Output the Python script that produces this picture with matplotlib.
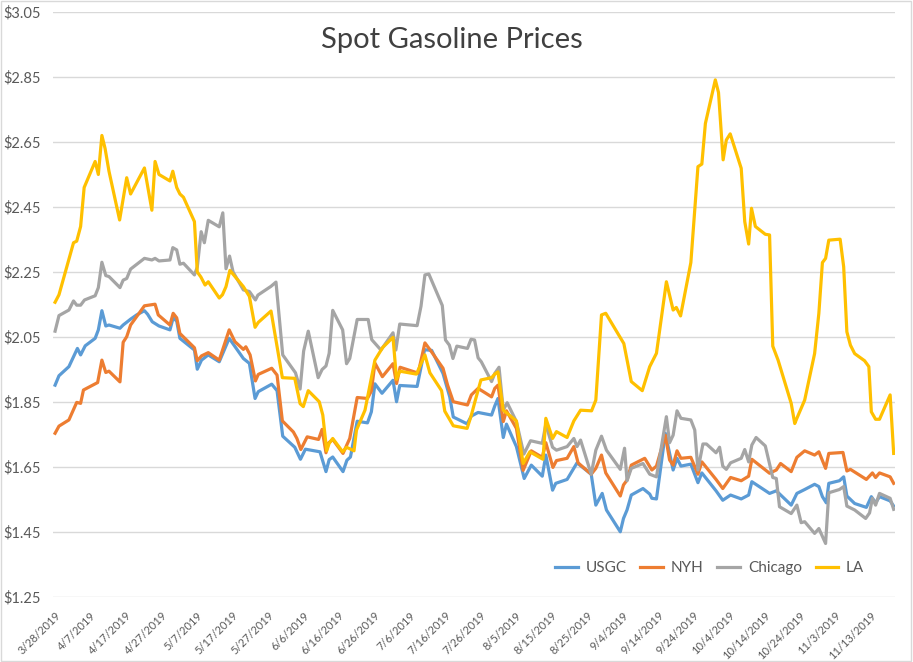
import datetime as dt
import matplotlib
matplotlib.use('Agg')
import matplotlib.pyplot as plt
from matplotlib.patches import Rectangle

plt.rcParams['font.family'] = ['Lato', 'DejaVu Sans']

# days after 3/28/2019
start = dt.datetime(2019, 3, 28)

usgc_days = [0, 1.1, 3.9, 6.3, 7.2, 8.5, 11.3, 12.2, 13.2, 14.3, 15.2, 18.3, 19.2, 21.3, 23, 25.2, 26.1, 27.4,
             29.3, 32.4, 33.3, 34.3, 35.2, 39.3, 40.1, 41.3, 43.2, 46.3, 49.1, 53.1, 54.8, 56.4, 57.3, 61.1,
             62.6, 64.2, 67.6, 69.2, 70.6, 74.7, 76.4, 77.3, 78.3, 81.2, 82.3, 83.3, 85.2, 88.1, 89.2, 90.2,
             92.2, 95.3, 96.3, 97.2, 102.1, 104.2, 106.2, 109.4, 111.3, 112.3, 116.2, 117.4, 119.3, 123.1,
             124, 124.9, 126.4, 127.3, 130.1, 132.3, 134.3, 137.4, 138.4, 140.3, 141.2, 144.4, 147.2, 151.2,
             152.5, 154.3, 155.5, 159.4, 160.3, 161.3, 162.5, 165.8, 167.7, 168.3, 169.6, 172.1, 174.3, 175.4,
             176.5, 179.3, 181.3, 182.4, 186.4, 188.3, 190.5, 193.5, 195.6, 196.5, 201.5, 203.4, 207.6, 209.2,
             211.4, 214.2, 215.4, 216.4, 217.5, 218.2, 221.2, 222.4, 223.3, 225.5, 228.8, 230.2, 231.4, 232.5,
             235.5, 236.5]
usgc = [1.902, 1.931, 1.959, 2.015, 1.995, 2.023, 2.046, 2.072, 2.131, 2.084, 2.087, 2.077, 2.087, 2.105, 2.118,
        2.131, 2.12, 2.097, 2.084, 2.072, 2.109, 2.099, 2.046, 2.01, 1.951, 1.979, 1.995, 1.974, 2.046, 1.984,
        1.969, 1.861, 1.882, 1.905, 1.885, 1.745, 1.711, 1.674, 1.705, 1.697, 1.636, 1.673, 1.681, 1.636, 1.671,
        1.681, 1.791, 1.786, 1.82, 1.906, 1.877, 1.917, 1.851, 1.901, 1.898, 2.011, 2.009, 1.938, 1.866, 1.804,
        1.783, 1.807, 1.818, 1.81, 1.838, 1.861, 1.741, 1.782, 1.713, 1.615, 1.656, 1.622, 1.687, 1.579, 1.6,
        1.612, 1.663, 1.628, 1.533, 1.569, 1.518, 1.451, 1.492, 1.518, 1.564, 1.584, 1.567, 1.554, 1.552, 1.754,
        1.641, 1.677, 1.653, 1.659, 1.602, 1.632, 1.577, 1.548, 1.564, 1.552, 1.564, 1.605, 1.569, 1.577, 1.533,
        1.569, 1.581, 1.597, 1.59, 1.559, 1.54, 1.6, 1.608, 1.62, 1.561, 1.538, 1.526, 1.559, 1.54, 1.559, 1.546,
        1.53]

nyh_days = [0, 1.1, 3.9, 6.1, 7.2, 8, 12, 13.2, 14.3, 15.2, 18.3, 19.2, 20.2, 21.3, 25.2, 28.2, 29.1, 32.4,
            33.3, 34.3, 35.2, 39.3, 40.1, 41.3, 43.2, 46.3, 49.1, 50.7, 53.1, 53.8, 55, 56.5, 57.3, 61.1, 62.6,
            64.1, 67.2, 68.2, 69.3, 71.1, 74.3, 75.3, 76.4, 77, 78.3, 81.2, 83.1, 85.2, 88.1, 89.2, 90.2, 92.3,
            95.3, 96.3, 97.3, 102.4, 104.3, 106.2, 109.4, 110.7, 112.3, 116.3, 117.4, 119.3, 123.1, 124, 124.9,
            126.4, 127.3, 130.1, 132, 134.3, 137.4, 138.4, 140.4, 141.4, 144.4, 146.3, 147.5, 151.2, 152.5,
            154.1, 155.3, 159.4, 160.3, 161.3, 162.5, 166.3, 168.3, 169.6, 172.1, 173.3, 174.3, 175.4, 176.5,
            179.3, 181.3, 182.4, 186.4, 188.3, 190.5, 193.5, 195.6, 196.5, 201.5, 203.4, 204.6, 207.6, 209.2,
            211.4, 214.2, 215.4, 217.3, 218.2, 222.2, 223.3, 224.3, 228.8, 230.5, 231.4, 232.5, 235.5, 236.5]
nyh = [1.754, 1.776, 1.795, 1.849, 1.846, 1.887, 1.91, 1.979, 1.941, 1.945, 1.912, 2.034, 2.051, 2.087, 2.146,
       2.151, 2.118, 2.087, 2.123, 2.109, 2.061, 2.017, 1.977, 1.992, 2.002, 1.979, 2.072, 2.036, 2.012, 2.02,
       1.995, 1.915, 1.935, 1.954, 1.933, 1.792, 1.758, 1.738, 1.704, 1.743, 1.735, 1.766, 1.694, 1.723, 1.735,
       1.692, 1.738, 1.864, 1.861, 1.884, 1.97, 1.928, 1.968, 1.907, 1.957, 1.939, 2.032, 2.004, 1.954, 1.902,
       1.851, 1.841, 1.872, 1.892, 1.866, 1.892, 1.902, 1.79, 1.823, 1.769, 1.64, 1.7, 1.68, 1.725, 1.649, 1.67,
       1.677, 1.713, 1.663, 1.628, 1.646, 1.687, 1.632, 1.561, 1.595, 1.61, 1.656, 1.677, 1.641, 1.653, 1.748,
       1.672, 1.656, 1.7, 1.677, 1.68, 1.628, 1.666, 1.612, 1.584, 1.618, 1.608, 1.622, 1.674, 1.631, 1.641,
       1.661, 1.636, 1.68, 1.7, 1.687, 1.697, 1.646, 1.692, 1.695, 1.638, 1.643, 1.612, 1.632, 1.618, 1.632,
       1.62, 1.6]

chicago_days = [0, 1.1, 3.9, 5.2, 6.1, 7.2, 8.3, 11.3, 12.2, 13.2, 14.3, 15.2, 18.3, 19.2, 20.2, 21.3, 25.2,
                27.3, 28.2, 29.3, 32.4, 33.2, 34.3, 35.2, 36.2, 39.3, 40.1, 41.2, 42.1, 43.2, 46.3, 47.3, 48.2,
                49.2, 50.2, 53.1, 54.8, 56.5, 57.2, 60.9, 62.3, 64.2, 67.8, 69.1, 70.1, 71.4, 74.2, 75.3, 76.4,
                77.3, 78.3, 81.1, 82.2, 83.1, 85.2, 88.3, 89.3, 91.9, 95.3, 96.1, 97.2, 102.1, 103.2, 104.3,
                105.4, 109.2, 110.1, 111.2, 112.2, 113.3, 116.3, 117.3, 118.3, 119.3, 120.2, 123.1, 124, 125.2,
                126.4, 127.5, 130.1, 132.2, 134.1, 137.4, 138.4, 140.3, 141.4, 144.4, 146.3, 147.2, 148.2, 151.2,
                152.5, 154.1, 155.5, 159.4, 160.6, 161.3, 162.5, 165.8, 167.7, 169.6, 172.4, 173.3, 174.3, 175.4,
                176.5, 179.3, 180.4, 181.3, 182.7, 183.7, 186.4, 187.4, 188.3, 189.3, 190.5, 193.5, 194.5, 195.6,
                196.5, 197.7, 200.3, 202.4, 203.4, 204.3, 207.6, 209.2, 210.4, 211.4, 214.2, 215.4, 217.3, 218.2,
                221.2, 222.4, 223.3, 225.5, 228.6, 229.7, 230.5, 231.4, 232.5, 235.5, 236.5]
chicago = [2.068, 2.116, 2.133, 2.161, 2.148, 2.148, 2.164, 2.177, 2.202, 2.28, 2.239, 2.236, 2.202, 2.225, 2.23,
           2.259, 2.292, 2.287, 2.292, 2.284, 2.287, 2.325, 2.318, 2.274, 2.277, 2.241, 2.265, 2.374, 2.34, 2.409,
           2.389, 2.432, 2.26, 2.299, 2.25, 2.195, 2.19, 2.164, 2.179, 2.206, 2.219, 1.995, 1.94, 1.89, 2.007,
           2.068, 1.925, 1.95, 1.961, 2.0, 2.132, 2.072, 1.968, 1.984, 2.104, 2.104, 2.042, 2.01, 2.063, 2.01,
           2.09, 2.085, 2.145, 2.241, 2.244, 2.147, 2.041, 2.025, 1.984, 2.022, 2.015, 2.043, 2.041, 1.986, 1.974,
           1.913, 1.938, 1.957, 1.825, 1.848, 1.79, 1.69, 1.731, 1.723, 1.782, 1.711, 1.702, 1.713, 1.738, 1.713,
           1.733, 1.628, 1.702, 1.745, 1.702, 1.643, 1.708, 1.608, 1.646, 1.661, 1.628, 1.62, 1.805, 1.725, 1.748,
           1.823, 1.8, 1.795, 1.764, 1.641, 1.721, 1.721, 1.694, 1.711, 1.653, 1.643, 1.663, 1.677, 1.704, 1.666,
           1.718, 1.741, 1.715, 1.618, 1.615, 1.528, 1.507, 1.533, 1.479, 1.482, 1.446, 1.461, 1.415, 1.571,
           1.581, 1.59, 1.53, 1.518, 1.492, 1.509, 1.554, 1.533, 1.569, 1.554, 1.52]

la_days = [0, 1.1, 5.2, 6.1, 7.2, 8.2, 11.3, 12.2, 13.2, 14.1, 15.2, 18.2, 20.2, 21.3, 25.2, 27.3, 28.2, 29.3,
           32.4, 33.2, 34.3, 35.2, 36.2, 39.3, 40.1, 41.1, 42.3, 43.2, 46.3, 47.2, 48.2, 49.3, 53.1, 54.8, 56.4,
           57.3, 60.9, 64.1, 67.6, 69.1, 70, 71.4, 74.5, 75.5, 76.6, 77.3, 78.3, 81.1, 82.2, 84.3, 85, 87.4, 90.2,
           92.4, 95.3, 96.3, 97.2, 101.9, 104.3, 105.7, 109, 109.9, 112.3, 116.2, 117.4, 118.4, 120.1, 123.1, 124,
           124.9, 126.4, 130.1, 132, 133.9, 137.6, 138.4, 140.3, 141.4, 144.4, 146.3, 148.2, 151.3, 152.5, 154.1,
           155.3, 160.4, 162.5, 165.6, 167.7, 169.6, 172.4, 174.3, 175.2, 176.4, 179.3, 181.3, 182.4, 183.4,
           186.2, 187.1, 188.4, 189.3, 190.4, 193.5, 194.5, 195.6, 196.4, 197.5, 200.3, 201.5, 202.4, 203.9,
           207.6, 208.6, 209.2, 211.4, 214.2, 215.4, 216.4, 217.3, 218.2, 221.4, 222.4, 223.3, 224.3, 225.5,
           228.3, 229.5, 230.2, 231.4, 232.5, 235.5, 236.5]
la = [2.157, 2.18, 2.34, 2.345, 2.39, 2.51, 2.59, 2.55, 2.67, 2.63, 2.56, 2.41, 2.54, 2.49, 2.57, 2.44, 2.59,
      2.55, 2.53, 2.56, 2.51, 2.49, 2.48, 2.405, 2.25, 2.235, 2.21, 2.22, 2.17, 2.18, 2.205, 2.255, 2.205, 2.175,
      2.08, 2.095, 2.13, 1.925, 1.923, 1.845, 1.836, 1.885, 1.851, 1.81, 1.70, 1.723, 1.738, 1.697, 1.711, 1.70,
      1.764, 1.825, 1.979, 2.018, 2.049, 1.92, 1.945, 1.936, 1.995, 1.94, 1.885, 1.822, 1.777, 1.769, 1.81,
      1.851, 1.918, 1.925, 1.936, 1.943, 1.825, 1.792, 1.661, 1.697, 1.674, 1.80, 1.738, 1.759, 1.741, 1.792,
      1.825, 1.823, 1.856, 2.118, 2.123, 2.03, 1.913, 1.885, 1.959, 2.0, 2.22, 2.133, 2.141, 2.115, 2.279, 2.574,
      2.582, 2.707, 2.841, 2.802, 2.595, 2.656, 2.675, 2.569, 2.405, 2.336, 2.446, 2.39, 2.366, 2.364, 2.022,
      1.979, 1.846, 1.784, 1.80, 1.856, 1.999, 2.123, 2.279, 2.292, 2.348, 2.351, 2.266, 2.066, 2.025, 1.999,
      1.977, 1.959, 1.82, 1.797, 1.797, 1.872, 1.692]

series_names = ['USGC', 'NYH', 'Chicago', 'LA']
series_colors = ['#5B9BD5', '#ED7D31', '#A5A5A5', '#FFC000']

y_ticks = [1.25, 1.45, 1.65, 1.85, 2.05, 2.25, 2.45, 2.65, 2.85, 3.05]
tick_dates = [start + dt.timedelta(days=10 * i) for i in range(24)]


def to_dates(days):
    return [start + dt.timedelta(days=d) for d in days]


fig = plt.figure(figsize=(9.13, 6.62), dpi=100)
ax = fig.add_axes([0.058, 0.098, 0.922, 0.884])

all_days = [usgc_days, nyh_days, chicago_days, la_days]
all_vals = [usgc, nyh, chicago, la]
for days, vals, name, col in zip(all_days, all_vals, series_names, series_colors):
    ax.plot(to_dates(days), vals, color=col, lw=2.3, label=name, solid_joinstyle='round')

ax.set_ylim(1.25, 3.05)
ax.set_yticks(y_ticks)
ax.set_yticklabels(['$%.2f' % v for v in y_ticks])
ax.set_xlim(start - dt.timedelta(days=0.6), start + dt.timedelta(days=236.8))
ax.set_xticks(tick_dates)
ax.set_xticklabels([f'{d.month}/{d.day}/{d.year}' for d in tick_dates],
                   rotation=45, ha='right', rotation_mode='anchor')

ax.grid(axis='y', color='#D9D9D9', lw=1)
ax.set_axisbelow(True)
for s in ax.spines.values():
    s.set_visible(False)
ax.tick_params(axis='both', length=0, colors='#595959')
ax.tick_params(axis='y', labelsize=10.5, pad=9)
ax.tick_params(axis='x', labelsize=8, pad=9)

fig.text(0.495, 1 - 40 / 662, 'Spot Gasoline Prices', ha='center', va='center',
         fontsize=21, color='#404040')

leg = ax.legend(loc='center', bbox_to_anchor=(0.78, 0.05), ncol=4, frameon=False,
                fontsize=11, handlelength=1.5, handletextpad=0.5, columnspacing=0.9)
for t in leg.get_texts():
    t.set_color('#595959')

fig.patches.append(Rectangle((0.001, 0.001), 0.997, 0.997, transform=fig.transFigure,
                             fill=False, edgecolor='#D9D9D9', lw=1))

fig.savefig('out.png', dpi=100)
